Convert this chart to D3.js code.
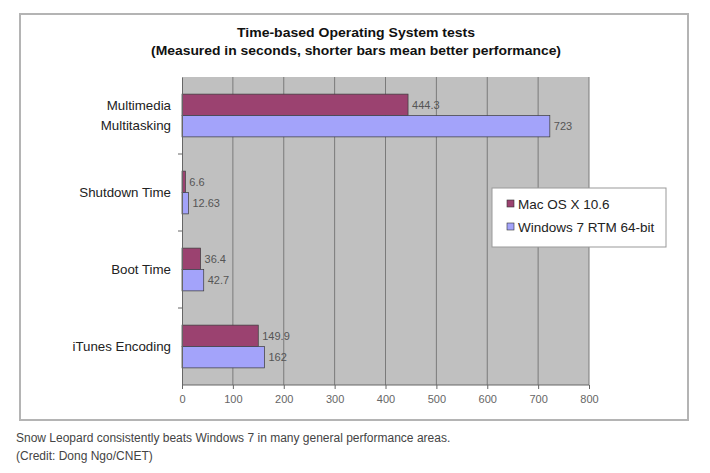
<!DOCTYPE html>
<html><head><meta charset="utf-8">
<script src="https://cdn.jsdelivr.net/npm/d3@7"></script>
<style>body{margin:0;background:#fff;}svg{display:block;}</style>
</head><body>
<svg id="c" width="710" height="473"></svg>
<script>
const categories = ["Multimedia\nMultitasking", "Shutdown Time", "Boot Time", "iTunes Encoding"];
const seriesNames = ["Mac OS X 10.6", "Windows 7 RTM 64-bit"];
const macValues = [444.3, 6.6, 36.4, 149.9];
const winValues = [723, 12.63, 42.7, 162];
const macLabels = ["444.3", "6.6", "36.4", "149.9"];
const winLabels = ["723", "12.63", "42.7", "162"];
const xTicks = [0, 100, 200, 300, 400, 500, 600, 700, 800];
const titleLines = ["Time-based Operating System tests", "(Measured in seconds, shorter bars mean better performance)"];
const captionLines = ["Snow Leopard consistently beats Windows 7 in many general performance areas.", "(Credit: Dong Ngo/CNET)"];
const colors = ["#9b4270", "#a3a3fa"];

const svg = d3.select("#c");
const font = "Arial, 'Liberation Sans', sans-serif";

// outer frame
svg.append("rect").attr("x", 20).attr("y", 14).attr("width", 668).attr("height", 406)
  .attr("fill", "#fff").attr("stroke", "#b4b4b4").attr("stroke-width", 2);

// title
titleLines.forEach((t, i) => {
  svg.append("text").attr("x", 356).attr("y", 37 + i * 18).attr("text-anchor", "middle")
    .attr("font-family", font).attr("font-size", 13.5).attr("font-weight", "bold")
    .attr("fill", "#111").attr("textLength", i === 0 ? 238 : 410).attr("lengthAdjust", "spacingAndGlyphs").text(t);
});

const L = 182, R = 589, T = 77, B = 385;
const x = d3.scaleLinear().domain([0, 800]).range([L, R]);
const y = d3.scaleBand().domain(categories).range([T, B]);
const inner = d3.scaleBand().domain(seriesNames).range([0, y.bandwidth()]).paddingOuter(0.8).paddingInner(0);

svg.append("rect").attr("x", L).attr("y", T).attr("width", R - L).attr("height", B - T).attr("fill", "#c0c0c0");

// grid lines
svg.append("g").selectAll("line").data(xTicks.slice(1)).join("line")
  .attr("x1", d => x(d)).attr("x2", d => x(d)).attr("y1", T).attr("y2", B)
  .attr("stroke", "#7a7a7a").attr("stroke-width", 1);

// bars
const series = [macValues, winValues];
const labels = [macLabels, winLabels];
series.forEach((vals, s) => {
  const g = svg.append("g");
  g.selectAll("rect").data(vals).join("rect")
    .attr("x", x(0)).attr("y", (d, i) => y(categories[i]) + inner(seriesNames[s]))
    .attr("width", d => x(d) - x(0)).attr("height", inner.bandwidth())
    .attr("fill", colors[s]).attr("stroke", "#3a3a3a").attr("stroke-width", 0.7);
  g.selectAll("text").data(vals).join("text")
    .attr("x", d => x(d) + 4).attr("y", (d, i) => y(categories[i]) + inner(seriesNames[s]) + inner.bandwidth() / 2 + 4)
    .attr("font-family", font).attr("font-size", 11).attr("fill", "#555")
    .text((d, i) => labels[s][i]);
});

// x axis
const xAxis = svg.append("g").attr("transform", `translate(0,${B})`)
  .call(d3.axisBottom(x).tickValues(xTicks).tickSize(4).tickPadding(6));
xAxis.select(".domain").attr("stroke", "#666").attr("d", `M${L},0H${R}`);
xAxis.selectAll(".tick line").attr("stroke", "#666");
xAxis.selectAll("text").attr("font-family", font).attr("font-size", 11).attr("fill", "#666");

// y axis
const yAxis = svg.append("g").attr("transform", `translate(${L},0)`)
  .call(d3.axisLeft(y).tickSize(0).tickFormat(""));
yAxis.select(".domain").attr("stroke", "#666");
yAxis.selectAll(".tick").remove();
svg.append("g").selectAll("line").data(categories.slice(1)).join("line")
  .attr("x1", L - 4).attr("x2", L).attr("y1", d => y(d)).attr("y2", d => y(d)).attr("stroke", "#666");

// category labels
categories.forEach(c => {
  const lines = c.split("\n");
  const cy = y(c) + y.bandwidth() / 2;
  lines.forEach((ln, i) => {
    svg.append("text").attr("x", 171).attr("text-anchor", "end")
      .attr("y", cy + 4.5 + (i - (lines.length - 1) / 2) * 20)
      .attr("font-family", font).attr("font-size", 13.3).attr("fill", "#222").text(ln);
  });
});

// legend
const lg = svg.append("g");
lg.append("rect").attr("x", 492).attr("y", 188).attr("width", 174).attr("height", 59)
  .attr("fill", "#fff").attr("stroke", "#999").attr("stroke-width", 1);
seriesNames.forEach((n, i) => {
  lg.append("rect").attr("x", 507).attr("y", 200 + i * 23).attr("width", 7).attr("height", 7)
    .attr("fill", colors[i]).attr("stroke", "#333").attr("stroke-width", 0.6);
  lg.append("text").attr("x", 518).attr("y", 209 + i * 23).attr("font-family", font)
    .attr("font-size", 13.5).attr("fill", "#222").text(n);
});

// caption
captionLines.forEach((t, i) => {
  svg.append("text").attr("x", 16).attr("y", 442 + i * 18).attr("font-family", font)
    .attr("font-size", 12).attr("fill", "#444").text(t);
});
</script>
</body></html>
